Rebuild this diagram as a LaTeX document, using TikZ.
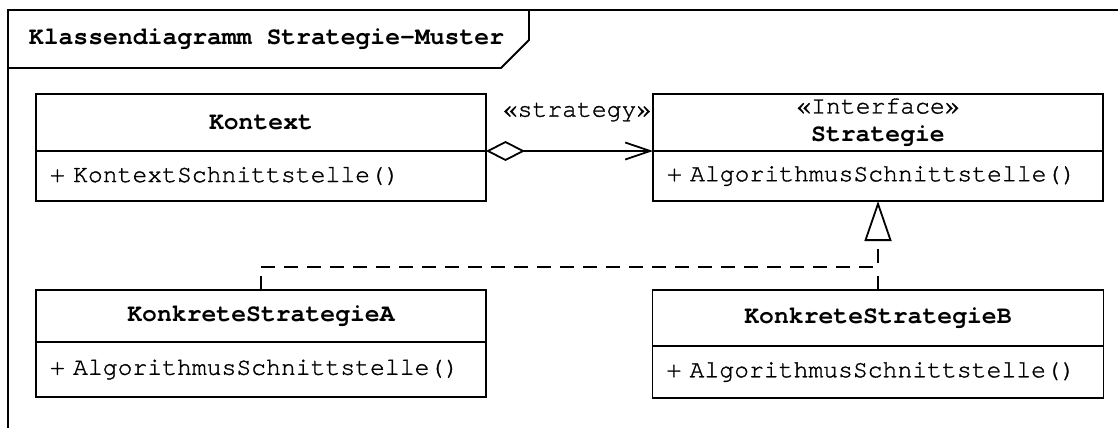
\documentclass[tikz,border=0pt]{standalone}
\usepackage{fontspec}
\setmainfont{TeX Gyre Cursor}[UprightFeatures={FakeBold=1.2}]
\usetikzlibrary{arrows.meta}
\newcommand\umlfont{\fontsize{24.75}{28}\selectfont}
\begin{document}
\begin{tikzpicture}[x=1pt,y=-1pt,line width=1.8pt,
  frameline/.style={line width=1.8pt},
  classhead/.style={draw,rectangle,inner sep=0pt,outer sep=0pt,
    font=\umlfont\bfseries,align=center},
  classbody/.style={draw,rectangle,inner xsep=14pt,inner ysep=0pt,outer sep=0pt,
    font=\umlfont,align=left},
  lbl/.style={inner sep=0pt,font=\umlfont},
  aggregation/.style={{Diamond[open,length=39pt,width=20pt]}-{Straight Barb[length=25pt,width=17pt]}},
  realize/.style={dash pattern=on 14pt off 9pt},
  realizetip/.style={realize,-{Triangle[open,length=40pt,width=27pt]}}]

% canvas
\fill[white] (0,0) rectangle (1118,428);
\useasboundingbox (0,0) rectangle (1118,428);

% diagram frame with its name tab
\draw[frameline] (1118,10) -- (8,10) -- (8,428);
\draw[frameline] (8,68) -- (501,68) -- (529,40) -- (529,10);
\node[lbl,anchor=west,font=\umlfont\bfseries] (title) at (28,39) {Klassendiagramm Strategie-Muster};

% class Kontext
\node[classhead,minimum width=450pt,minimum height=57pt] (khead) at (261,122.5) {Kontext};
\node[classbody,text width=422pt,minimum height=50pt] (kbody) at (261,176) {+ KontextSchnittstelle()};

% interface Strategie
\node[classhead,minimum width=450pt,minimum height=57pt] (shead) at (878,122.5)
  {{\mdseries «Interface»}\\Strategie};
\node[classbody,text width=422pt,minimum height=50pt] (sbody) at (878,176) {+ AlgorithmusSchnittstelle()};

% class KonkreteStrategieA
\node[classhead,minimum width=450pt,minimum height=52pt] (ahead) at (261,316) {KonkreteStrategieA};
\node[classbody,text width=422pt,minimum height=55pt] (abody) at (261,369.5) {+ AlgorithmusSchnittstelle()};

% class KonkreteStrategieB
\node[classhead,minimum width=451pt,minimum height=56pt] (bhead) at (878,318) {KonkreteStrategieB};
\node[classbody,text width=423pt,minimum height=52pt] (bbody) at (878,372) {+ AlgorithmusSchnittstelle()};

% aggregation Kontext -> Strategie
\draw[aggregation] (khead.south east) -- (shead.south west);
\node[lbl] (stereo) at (577,112) {«strategy»};

% realization of the interface
\coordinate (junction) at (878,267);
\draw[realizetip] (ahead.north) |- (junction) -- (sbody.south);
\draw[realize] (bhead.north) -- (junction);
\end{tikzpicture}
\end{document}
